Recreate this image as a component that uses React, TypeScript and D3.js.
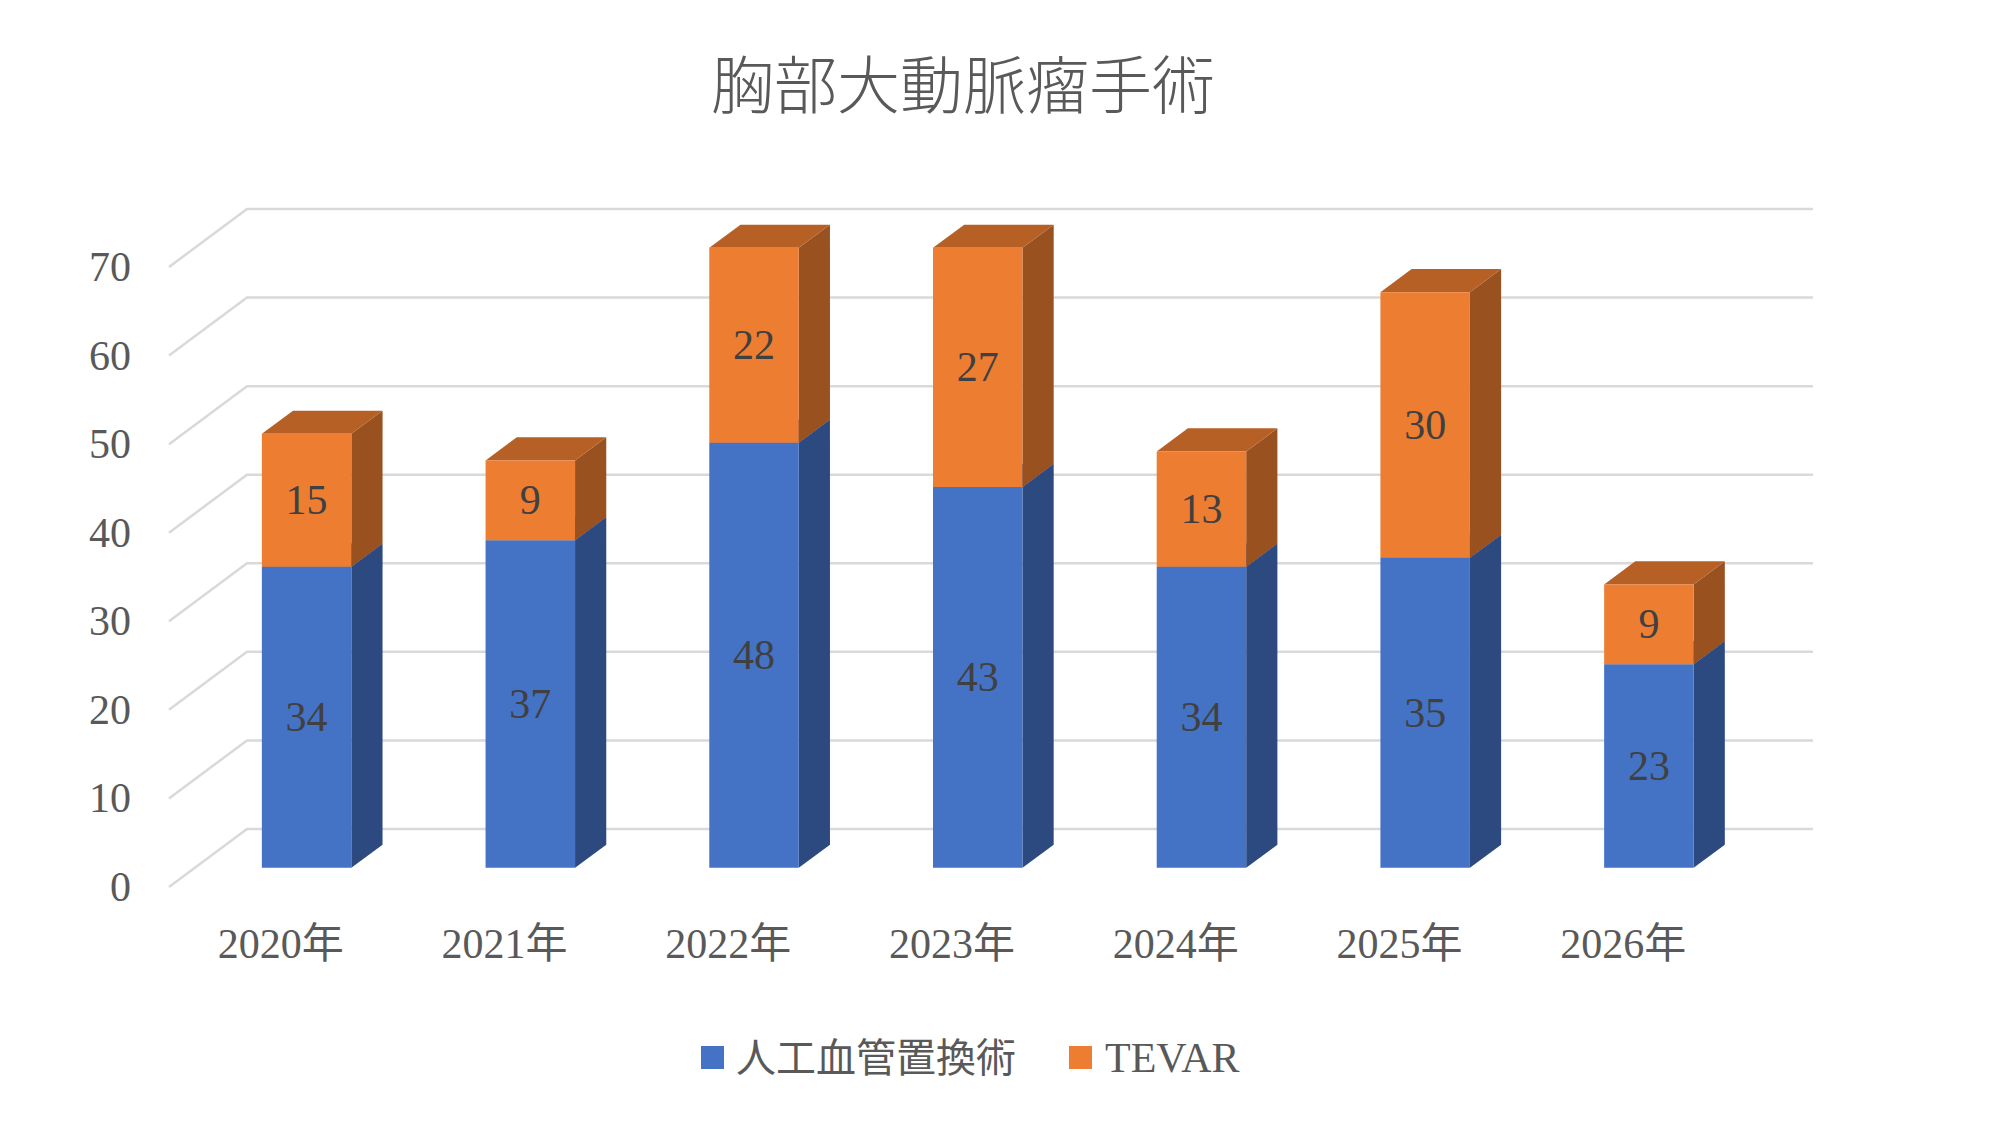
import React from 'react';
import * as d3 from 'd3';

const categories = ['2020年', '2021年', '2022年', '2023年', '2024年', '2025年', '2026年'];
const graftValues = [34, 37, 48, 43, 34, 35, 23];
const tevarValues = [15, 9, 22, 27, 13, 30, 9];
const seriesNames = ['人工血管置換術', 'TEVAR'];
const yTicks = [0, 10, 20, 30, 40, 50, 60, 70];

const W = 2000;
const H = 1125;
const FONT = '"Liberation Serif", "Noto Sans CJK JP", serif';

// 3D projection: depth vector from front plane to back wall
const DX = 78;
const DY = -58;
const T1 = 0.33; // bar front depth
const T2 = 0.73; // bar back depth

const COLORS = {
  blue: { front: '#4472C4', side: '#2C4A80', top: '#3458A0' },
  orange: { front: '#ED7D31', side: '#9A5120', top: '#B66026' },
};

const App: React.FC = () => {
  const x = d3.scaleBand<string>().domain(categories).range([169, 1735]).padding(0);
  const y = d3.scaleLinear().domain([0, 70]).range([887, 887 - 620]);
  const barW = x.step() * 0.4;

  const p = (px: number, v: number, t: number): [number, number] => [px + DX * t, y(v) + DY * t];
  const poly = (pts: [number, number][]) => pts.map(q => q.join(',')).join(' ');

  const stack = categories.map((c, i) => [
    { v0: 0, v1: graftValues[i], val: graftValues[i], col: COLORS.blue },
    { v0: graftValues[i], v1: graftValues[i] + tevarValues[i], val: tevarValues[i], col: COLORS.orange },
  ]);

  return (
    <svg width={W} height={H} style={{ display: 'block', position: 'absolute', left: 0, top: 0, background: '#fff' }}>
      <rect width={W} height={H} fill="#fff" />
      <text x={963} y={87} textAnchor="middle" dominantBaseline="central" fontFamily={FONT} fontSize={63} fontWeight={300} fill="#595959">
        胸部大動脈瘤手術
      </text>

      {/* gridlines: side wall diagonal + back wall */}
      {yTicks.map(v => {
        const a = p(169, v, 0);
        const b = p(169, v, 1);
        const c = p(1735, v, 1);
        return (
          <polyline key={v} points={poly([a, b, c])} fill="none" stroke="#d9d9d9" strokeWidth={2.5} />
        );
      })}

      {yTicks.map(v => (
        <text key={v} x={131} y={y(v)} textAnchor="end" dominantBaseline="central" fontFamily={FONT} fontSize={42} fill="#595959">
          {v}
        </text>
      ))}

      {categories.map((c, i) => {
        const xl = (x(c) as number) + x.step() / 2 - barW / 2;
        const xr = xl + barW;
        return (
          <g key={c}>
            {stack[i].map((s, j) => {
              const front = [p(xl, s.v0, T1), p(xr, s.v0, T1), p(xr, s.v1, T1), p(xl, s.v1, T1)];
              const side = [p(xr, s.v0, T1), p(xr, s.v0, T2), p(xr, s.v1, T2), p(xr, s.v1, T1)];
              const top = [p(xl, s.v1, T1), p(xr, s.v1, T1), p(xr, s.v1, T2), p(xl, s.v1, T2)];
              const [lx, ly] = p((xl + xr) / 2, (s.v0 + s.v1) / 2, T1);
              return (
                <g key={j}>
                  <polygon points={poly(side)} fill={s.col.side} />
                  <polygon points={poly(top)} fill={s.col.top} />
                  <polygon points={poly(front)} fill={s.col.front} />
                  <text x={lx} y={ly} textAnchor="middle" dominantBaseline="central" fontFamily={FONT} fontSize={42} fill="#404040">
                    {s.val}
                  </text>
                </g>
              );
            })}
          </g>
        );
      })}

      {categories.map(c => (
        <text key={c} x={(x(c) as number) + x.step() / 2} y={944} textAnchor="middle" dominantBaseline="central" fontFamily={FONT} fontSize={42} fill="#595959">
          {c}
        </text>
      ))}

      {/* legend */}
      <rect x={701} y={1046} width={23} height={23} fill={COLORS.blue.front} />
      <text x={736} y={1058} dominantBaseline="central" fontFamily={FONT} fontSize={40} fill="#595959">{seriesNames[0]}</text>
      <rect x={1069} y={1046} width={23} height={23} fill={COLORS.orange.front} />
      <text x={1105} y={1058} dominantBaseline="central" fontFamily={FONT} fontSize={42} fill="#595959">{seriesNames[1]}</text>
    </svg>
  );
};

export default App;
